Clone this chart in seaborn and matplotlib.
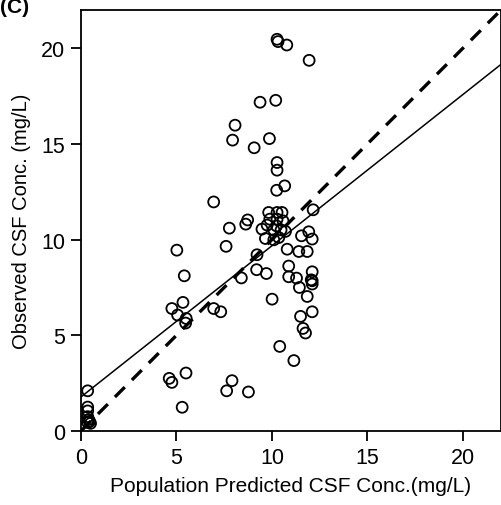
import numpy as np
import pandas as pd
import matplotlib
matplotlib.use("Agg")
import matplotlib.pyplot as plt
import seaborn as sns

# Population predicted vs observed CSF concentrations (mg/L)
pred = [
    0.35, 0.35, 0.35, 0.35, 0.40, 0.45, 0.35, 0.50,
    10.27, 10.32, 10.78, 11.95, 9.38, 10.20, 8.07, 7.94, 9.07, 9.87,
    10.27, 10.27, 10.25, 10.67, 6.95, 7.77, 8.63, 8.73, 7.60, 5.02,
    5.41, 9.22, 9.20, 8.40, 5.34, 4.76, 5.06, 5.51, 5.48, 6.95, 7.32,
    4.62, 4.76, 5.50, 7.91, 7.63, 8.77, 5.30,
    9.83, 10.27, 10.53, 9.89, 10.27, 10.58, 9.75, 10.24, 9.48, 10.10,
    10.48, 9.66, 10.10, 10.71, 10.36,
    12.16, 11.55, 11.93, 12.11, 10.80, 11.41, 11.85, 10.88, 9.71,
    10.88, 11.29, 12.11, 12.06, 12.11, 12.11, 11.44, 11.85, 10.01,
    12.11, 11.50, 11.63, 11.76, 10.41, 11.15,
]
obs = [
    2.10, 1.25, 1.05, 0.75, 0.60, 0.50, 0.45, 0.40,
    20.47, 20.35, 20.17, 19.37, 17.18, 17.28, 15.98, 15.20, 14.80, 15.28,
    14.03, 13.63, 12.58, 12.81, 11.97, 10.60, 10.81, 11.03, 9.65, 9.45,
    8.11, 9.21, 8.43, 8.00, 6.72, 6.40, 6.06, 5.88, 5.64, 6.40, 6.23,
    2.75, 2.54, 3.03, 2.63, 2.10, 2.04, 1.24,
    11.42, 11.42, 11.42, 11.07, 11.07, 10.98, 10.76, 10.72, 10.55, 10.51,
    10.51, 10.06, 9.99, 10.43, 10.11,
    11.56, 10.20, 10.41, 10.03, 9.50, 9.38, 9.38, 8.62, 8.23,
    8.06, 7.99, 8.32, 7.90, 7.85, 7.68, 7.50, 7.03, 6.89,
    6.23, 5.99, 5.36, 5.12, 4.42, 3.68,
]

# Linear regression of observed on predicted
fit_intercept = 1.78
fit_slope = 0.79

x_ticks = [0, 5, 10, 15, 20]
y_ticks = [0, 5, 10, 15, 20]

df = pd.DataFrame({"pred": pred, "obs": obs})

sns.set_style("ticks")
plt.rcParams["font.family"] = ["Liberation Sans", "DejaVu Sans"]
plt.rcParams["text.color"] = "black"
plt.rcParams["axes.labelcolor"] = "black"

fig = plt.figure(figsize=(5.02, 5.06), dpi=100)
ax = fig.add_axes([81 / 502, 1 - 432 / 506, (501 - 81) / 502, (432 - 11) / 506])

xmax, ymax = 22.0, 22.0
line_x = np.array([0, xmax])
ax.plot(line_x, line_x, color="black", lw=2.4, ls=(0, (4.2, 3.0)), zorder=2)
ax.plot(line_x, fit_intercept + fit_slope * line_x, color="black", lw=1.1, zorder=2)

sns.scatterplot(data=df, x="pred", y="obs", ax=ax, marker="o", s=62,
                facecolor="none", edgecolor="black", linewidth=1.3, zorder=3,
                clip_on=False)

ax.set_xlim(0, xmax)
ax.set_ylim(0, ymax)
ax.set_xticks(x_ticks)
ax.set_yticks(y_ticks)
ax.tick_params(direction="out", length=7.5, width=1.3, labelsize=15.5, pad=4,
               colors="black", labelcolor="black")
for sp in ax.spines.values():
    sp.set_linewidth(1.3)
    sp.set_color("black")

ax.set_xlabel("Population Predicted CSF Conc.(mg/L)", fontsize=15, labelpad=6,
              color="black")
ax.set_ylabel("Observed CSF Conc. (mg/L)", fontsize=14.5, labelpad=7,
              color="black")

fig.text(0.0, 1 - 13 / 506, "(C)", fontsize=15, fontweight="bold",
         ha="left", va="baseline", color="black")

fig.savefig("out.png", dpi=100)
